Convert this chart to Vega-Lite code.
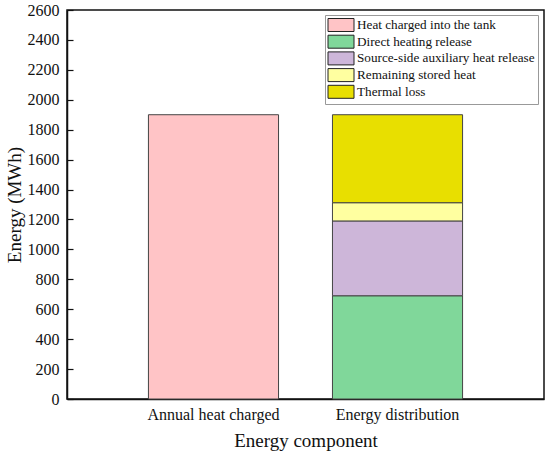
{
  "$schema": "https://vega.github.io/schema/vega-lite/v6.json",
  "autosize": "none",
  "width": 477,
  "height": 389,
  "padding": {"left": 67, "top": 10, "right": 6, "bottom": 62},
  "data": {
    "values": [
      {"component": "Annual heat charged", "series": "Heat charged into the tank", "energy": 1900, "order": 0},
      {"component": "Energy distribution", "series": "Direct heating release", "energy": 690, "order": 1},
      {"component": "Energy distribution", "series": "Source-side auxiliary heat release", "energy": 500, "order": 2},
      {"component": "Energy distribution", "series": "Remaining stored heat", "energy": 122, "order": 3},
      {"component": "Energy distribution", "series": "Thermal loss", "energy": 588, "order": 4}
    ]
  },
  "mark": {"type": "bar", "stroke": "#444", "strokeWidth": 1},
  "encoding": {
    "x": {
      "field": "component",
      "type": "nominal",
      "sort": null,
      "title": "Energy component",
      "scale": {"paddingInner": 0.293, "paddingOuter": 0.4425},
      "axis": {"labelAngle": 0, "tickSize": -6, "labelPadding": 13, "titlePadding": 9}
    },
    "y": {
      "field": "energy",
      "type": "quantitative",
      "stack": "zero",
      "title": "Energy (MWh)",
      "scale": {"domain": [0, 2600], "nice": false},
      "axis": {"values": [0, 200, 400, 600, 800, 1000, 1200, 1400, 1600, 1800, 2000, 2200, 2400, 2600], "format": "d", "tickSize": -6, "labelPadding": 14, "titlePadding": 3, "grid": false}
    },
    "color": {
      "field": "series",
      "type": "nominal",
      "scale": {
        "domain": ["Heat charged into the tank", "Direct heating release", "Source-side auxiliary heat release", "Remaining stored heat", "Thermal loss"],
        "range": ["#ffc4c6", "#80d79a", "#cdb6d9", "#ffffa0", "#e8df00"]
      },
      "legend": {
        "title": null,
        "orient": "none",
        "legendX": 258,
        "legendY": 5,
        "symbolType": "M-2,-1H2V1H-2Z",
        "symbolSize": 169,
        "symbolOffset": 6,
        "symbolStrokeColor": "#222",
        "symbolStrokeWidth": 1,
        "symbolOpacity": 1,
        "labelFont": "Liberation Serif",
        "labelFontSize": 13.2,
        "labelColor": "#111",
        "labelLimit": 300,
        "labelOffset": 9,
        "rowPadding": -1.3,
        "padding": 3,
        "strokeColor": "#999",
        "fillColor": "white"
      }
    },
    "order": {"field": "order", "type": "quantitative"}
  },
  "config": {
    "view": {"stroke": "#111", "strokeWidth": 1.5},
    "axis": {
      "zindex": 1,
      "labelFont": "Liberation Serif",
      "titleFont": "Liberation Serif",
      "labelFontSize": 16,
      "titleFontSize": 19,
      "titleFontWeight": "normal",
      "labelColor": "#111",
      "titleColor": "#111",
      "domainColor": "#111",
      "domainWidth": 1.5,
      "tickColor": "#111",
      "tickWidth": 1.2
    }
  }
}
